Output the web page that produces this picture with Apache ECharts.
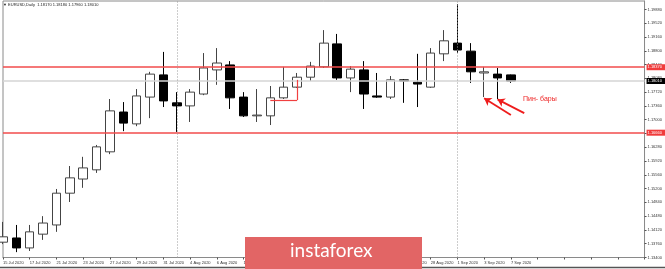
<!DOCTYPE html>
<html>
<head>
<meta charset="utf-8">
<script src="https://cdn.jsdelivr.net/npm/echarts@6/dist/echarts.min.js"></script>
<style>html,body{margin:0;padding:0;background:#fff}#c{width:665px;height:269px}</style>
</head>
<body>
<div id="c"></div>
<script>
const dates = ['15 Jul 2020','16 Jul 2020','17 Jul 2020','20 Jul 2020','21 Jul 2020','22 Jul 2020','23 Jul 2020','24 Jul 2020','27 Jul 2020','28 Jul 2020','29 Jul 2020','30 Jul 2020','31 Jul 2020','3 Aug 2020','4 Aug 2020','5 Aug 2020','6 Aug 2020','7 Aug 2020','10 Aug 2020','11 Aug 2020','12 Aug 2020','13 Aug 2020','14 Aug 2020','17 Aug 2020','18 Aug 2020','19 Aug 2020','20 Aug 2020','21 Aug 2020','24 Aug 2020','25 Aug 2020','26 Aug 2020','27 Aug 2020','28 Aug 2020','31 Aug 2020','1 Sep 2020','2 Sep 2020','3 Sep 2020','4 Sep 2020','7 Sep 2020'];
const openP  = [1.1380,1.1391,1.1365,1.1401,1.1425,1.1508,1.1545,1.1569,1.1616,1.1720,1.1689,1.1759,1.1817,1.1744,1.1736,1.1767,1.1830,1.1843,1.1759,1.1710,1.1710,1.1757,1.1785,1.1811,1.1838,1.1898,1.1809,1.1830,1.1762,1.1759,1.1804,1.1798,1.1785,1.1872,1.1900,1.1879,1.1822,1.1819,1.1817];
const closeP = [1.1394,1.1365,1.1407,1.1430,1.1508,1.1548,1.1574,1.1629,1.1723,1.1691,1.1762,1.1819,1.1749,1.1736,1.1772,1.1835,1.1848,1.1757,1.1710,1.1712,1.1757,1.1785,1.1811,1.1840,1.1900,1.1809,1.1832,1.1767,1.1759,1.1804,1.1801,1.1793,1.1874,1.1906,1.1882,1.1825,1.1825,1.1809,1.1801];
const highP  = [1.1433,1.1425,1.1425,1.1448,1.1519,1.1579,1.1603,1.1634,1.1754,1.1746,1.1780,1.1825,1.1877,1.1772,1.1780,1.1874,1.1887,1.1853,1.1772,1.1780,1.1788,1.1838,1.1822,1.1851,1.1934,1.1924,1.1840,1.1853,1.1822,1.1814,1.1806,1.1872,1.1887,1.1934,1.2002,1.1900,1.1838,1.1835,1.1818];
const lowP   = [1.1375,1.1354,1.1357,1.1386,1.1407,1.1485,1.1522,1.1561,1.1610,1.1670,1.1683,1.1704,1.1733,1.1668,1.1694,1.1764,1.1791,1.1728,1.1707,1.1694,1.1686,1.1754,1.1783,1.1801,1.1835,1.1804,1.1772,1.1728,1.1757,1.1754,1.1744,1.1733,1.1783,1.1853,1.1874,1.1796,1.1759,1.1754,1.1796];
const emptySlots = 10;
const yMin = 1.1340, yMax = 1.2010, yStep = 0.0036;
const resistance = 1.1837, support = 1.1666, currentPrice = 1.1801;
const separators = ['3 Aug 2020','1 Sep 2020'];
const title = 'EURUSD,Daily  1.18170 1.18180 1.17960 1.18010';
const noteText = 'Пин- бары';

const cats = dates.concat(Array.from({length: emptySlots}, (_, i) => ' '.repeat(i + 1)));
const ohlc = dates.map((d, i) => [openP[i], closeP[i], lowP[i], highP[i]]);
const F = 'Liberation Sans, DejaVu Sans, sans-serif';
const lbl = (txt, bg) => ({show: true, position: 'end', distance: 2, formatter: txt, color: '#fff', backgroundColor: bg, fontSize: 4, fontFamily: F, padding: [1, 4, 1, 1]});

const chart = echarts.init(document.getElementById('c'), null, {renderer: 'canvas'});
chart.setOption({
  animation: false,
  backgroundColor: '#fff',
  grid: {left: 2, right: 17, top: 1, bottom: 11.5, show: true, borderColor: '#8a8a8a', borderWidth: 1, containLabel: false},
  xAxis: {
    type: 'category', data: cats, boundaryGap: false,
    axisLine: {show: true, lineStyle: {color: '#8a8a8a', width: 1}},
    axisTick: {show: true, interval: 1, length: 2, lineStyle: {color: '#555'}},
    axisLabel: {interval: 1, fontSize: 4, fontFamily: F, color: '#333', align: 'left', margin: 3},
    splitLine: {show: false}
  },
  yAxis: {
    type: 'value', position: 'right', min: yMin, max: yMax, interval: yStep, scale: true,
    axisLine: {show: true, lineStyle: {color: '#8a8a8a', width: 1}},
    axisTick: {show: true, length: 2, lineStyle: {color: '#555'}},
    axisLabel: {fontSize: 4, fontFamily: F, color: '#333', margin: 3, showMaxLabel: false, formatter: v => v.toFixed(5)},
    splitLine: {show: false}
  },
  series: [{
    type: 'candlestick', data: ohlc, barWidth: 9,
    itemStyle: {color: '#ffffff', color0: '#000000', borderColor: '#444', borderColor0: '#000', borderWidth: 1},
    markLine: {
      silent: true, symbol: 'none', animation: false, precision: 6,
      data: [
        {yAxis: currentPrice, lineStyle: {color: '#d4d4d4', width: 1.5, type: 'solid'}, label: lbl(currentPrice.toFixed(5), '#000')},
        {yAxis: resistance, lineStyle: {color: '#f24b4b', width: 1.5, type: 'solid'}, label: lbl(resistance.toFixed(5), '#f03c3c')},
        {yAxis: support, lineStyle: {color: '#f24b4b', width: 1.5, type: 'solid'}, label: lbl(support.toFixed(5), '#f03c3c')},
        {xAxis: separators[0], lineStyle: {color: '#9a9a9a', width: 1, type: [1, 2]}, label: {show: false}},
        {xAxis: separators[1], lineStyle: {color: '#9a9a9a', width: 1, type: [1, 2]}, label: {show: false}},
        [{coord: [20, 1.1751], lineStyle: {color: '#f04040', width: 1.2, type: 'solid'}, label: {show: false}}, {coord: [22, 1.1751]}],
        [{coord: [22, 1.1751], lineStyle: {color: '#f04040', width: 1.2, type: 'solid'}, label: {show: false}}, {coord: [22, 1.1804]}],
        [{coord: [37.5, 1.1712], symbol: 'none', lineStyle: {color: '#ee1c1c', width: 1.8, type: 'solid'}, label: {show: false}}, {coord: [35.85, 1.1756], symbol: 'arrow', symbolSize: 7}],
        [{coord: [38.6, 1.1717], symbol: 'none', lineStyle: {color: '#ee1c1c', width: 1.8, type: 'solid'}, label: {show: false}}, {coord: [37.2, 1.1753], symbol: 'arrow', symbolSize: 7}]
      ]
    }
  }],
  graphic: [
    {type: 'text', left: 3, top: 3, style: {text: '▼ ' + title, fontSize: 4, fontFamily: F, fill: '#222'}},
    {type: 'text', left: 523, top: 96, style: {text: noteText, fontSize: 7, fontFamily: F, fill: '#ee2222'}},
    {type: 'line', shape: {x1: 0, y1: 267.5, x2: 665, y2: 267.5}, style: {stroke: '#555', lineWidth: 1.5}},
    {type: 'rect', shape: {x: 245, y: 237, width: 177, height: 32}, style: {fill: '#e26565'}, z: 100},
    {type: 'text', left: 290, top: 241, z: 101, style: {text: 'instaforex', fontSize: 19, fontFamily: 'Lato, Open Sans, sans-serif', fill: '#ffffff'}}
  ]
});
</script>
</body>
</html>
